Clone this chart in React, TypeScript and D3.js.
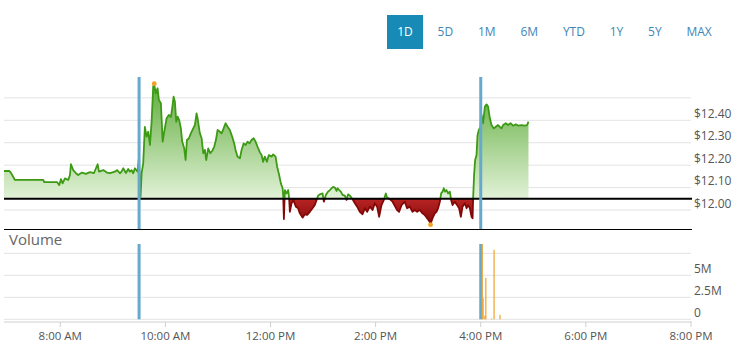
import React from "react";
import * as d3 from "d3";

const W = 746;
const H = 359;

const rangeButtons = ["1D", "5D", "1M", "6M", "YTD", "1Y", "5Y", "MAX"];
const selectedRange = "1D";
const previousClose = 12.05;
const priceTickValues = [12.0, 12.1, 12.2, 12.3, 12.4, 12.5];
const priceTickLabels = ["$12.00", "$12.10", "$12.20", "$12.30", "$12.40", ""];
const volumeTickValues = [0, 2.5e6, 5e6, 7.5e6];
const volumeTickLabels = ["0", "2.5M", "5M", ""];
const timeTickMinutes = [480, 600, 720, 840, 960, 1080, 1200];
const timeTickLabels = ["8:00 AM", "10:00 AM", "12:00 PM", "2:00 PM", "4:00 PM", "6:00 PM", "8:00 PM"];
const sessionMarkers = [570, 960]; // 9:30 AM open, 4:00 PM close

// minutes since midnight
const priceMinutes = [
  415.8, 421.8, 423.4, 428.3, 460.6, 461.7, 476.6, 478.9, 480.8, 482.7, 485.4, 489.1, 491.1, 492.2, 494.8, 497.9,
  500.5, 504.8, 509.3, 513.9, 518.5, 522.7, 524.2, 529.1, 533.3, 536.7, 542.4, 545, 548.1, 550, 551.9, 555, 557.6,
  559.5, 561.5, 563.3, 565.2, 568.3, 569.8, 571.7, 572.9, 574.7, 576.6, 578.6, 580.4, 582.4, 584.3, 586.1, 587.3,
  588.9, 591.1, 592.6, 594.9, 596.9, 598.7, 601.4, 604, 606.3, 607.8, 609.4, 610.9, 612.4, 614, 615.8, 617.7, 619.2,
  621.5, 623.1, 624.6, 626.9, 629.1, 631.8, 633.7, 635.6, 636.8, 639.4, 641.4, 643.2, 645.1, 646.6, 648.9, 651.2,
  653.4, 655.7, 657.7, 659.6, 662.2, 664.2, 666.5, 668.7, 671, 673.6, 676.3, 678.6, 680.1, 682.4, 685.1, 687, 689.3,
  691.6, 693.8, 696.1, 698.4, 700.7, 703, 705.2, 707.9, 709.8, 711.6, 713.6, 715.9, 718.1, 721.2, 723.1, 725.8,
  727.6, 729.9, 731.8, 733.8, 734.5, 735.3, 736.4, 738.3, 740.2, 741.3, 742.1, 744, 745.9, 749, 751.6, 753.5, 756.6,
  759.2, 761.9, 764.9, 768, 770.6, 772.6, 774.4, 776.4, 779.4, 780.9, 783.2, 785.8, 787.8, 789.7, 791.5, 793.8,
  795.4, 796.6, 798.4, 800.3, 802.3, 804.9, 806.8, 808.6, 810.6, 813.6, 816.3, 818.9, 822, 825.1, 827.7, 830.3,
  833.4, 836.5, 839.1, 841.7, 844, 846.7, 849.4, 851.6, 853.1, 856.2, 859.3, 861.9, 864.5, 866.8, 869.6, 873.3,
  875.9, 879, 882.1, 884.7, 887.4, 890.4, 893.5, 896.1, 898.8, 901.1, 902.7, 904.2, 905.6, 907.6, 909.5, 911.3,
  913.3, 914.8, 916.4, 917.8, 919.3, 920.9, 922.7, 924.7, 926.2, 927.8, 930.4, 933, 935.3, 937.3, 939.2, 941.9,
  943.8, 945.6, 947.6, 949.5, 950.7, 951.3, 952.4, 953.6, 955.2, 956.3, 957.8, 959.7, 960.9, 962.7, 964.7, 966.6,
  968.4, 970.4, 972.3, 974.9, 977.2, 979.8, 981.8, 983.7, 985.5, 988.6, 991.2, 994, 996.9, 1000, 1003.1, 1006.5,
  1010.3, 1012.9, 1014.5,
];

const priceValues = [
  12.174, 12.174, 12.168, 12.134, 12.134, 12.124, 12.124, 12.111, 12.138, 12.119, 12.141, 12.134, 12.156, 12.204,
  12.178, 12.164, 12.156, 12.167, 12.161, 12.169, 12.165, 12.204, 12.171, 12.178, 12.167, 12.164, 12.171, 12.178,
  12.164, 12.171, 12.186, 12.165, 12.183, 12.171, 12.178, 12.164, 12.186, 12.171, 12.231, 12.059, 12.164, 12.208,
  12.371, 12.327, 12.349, 12.29, 12.394, 12.55, 12.561, 12.52, 12.543, 12.491, 12.476, 12.305, 12.349, 12.409,
  12.424, 12.415, 12.454, 12.505, 12.483, 12.394, 12.416, 12.401, 12.364, 12.305, 12.275, 12.223, 12.312, 12.32,
  12.342, 12.364, 12.379, 12.431, 12.409, 12.342, 12.32, 12.253, 12.268, 12.223, 12.275, 12.253, 12.263, 12.282,
  12.312, 12.357, 12.349, 12.342, 12.364, 12.387, 12.371, 12.357, 12.327, 12.297, 12.268, 12.238, 12.231, 12.268,
  12.297, 12.29, 12.305, 12.297, 12.312, 12.32, 12.305, 12.282, 12.257, 12.245, 12.215, 12.238, 12.215, 12.245,
  12.238, 12.248, 12.238, 12.193, 12.156, 12.119, 12.097, 12.064, 11.96, 12.089, 12.074, 12.089, 12.052, 11.992,
  12.03, 12.045, 12.015, 12.008, 11.985, 11.966, 11.981, 11.978, 11.992, 12.008, 12.022, 12.045, 12.064, 12.07,
  12.074, 12.037, 12.067, 12.082, 12.089, 12.097, 12.103, 12.099, 12.085, 12.097, 12.089, 12.082, 12.067, 12.064,
  12.045, 12.07, 12.064, 12.049, 12.03, 12.015, 11.992, 11.981, 12.008, 11.992, 12.015, 12.0, 12.03, 12.015, 11.97,
  12.022, 12.045, 12.074, 12.055, 12.049, 12.037, 12.019, 12.0, 11.992, 12.022, 12.037, 12.008, 12.015, 11.992,
  12.0, 11.992, 12.0, 11.985, 11.978, 11.963, 11.951, 11.939, 11.955, 11.97, 11.985, 11.992, 12.008, 12.037,
  12.074, 12.082, 12.097, 12.082, 12.089, 12.074, 12.082, 12.045, 12.022, 12.037, 12.022, 12.008, 11.97, 12.015,
  12.03, 12.008, 12.022, 12.008, 11.97, 11.963, 12.052, 12.156, 12.223, 12.245, 12.334, 12.357, 12.371, 12.424,
  12.387, 12.461, 12.471, 12.461, 12.409, 12.379, 12.364, 12.371, 12.379, 12.371, 12.364, 12.379, 12.387, 12.379,
  12.387, 12.376, 12.382, 12.376, 12.379, 12.376, 12.379, 12.394,
];

const volumeMinutes = [961.7, 962.7, 964.7, 965.8, 972.3, 975.2, 982];
const volumeValues = [8.6e6, 2.4e6, 0.4e6, 4.7e6, 0.1e6, 7.9e6, 0.5e6];

const FONT = "'Open Sans', 'DejaVu Sans', sans-serif";

function measure(text: string, font: string): number {
  const c = document.createElement("canvas").getContext("2d");
  if (!c) return text.length * 7;
  c.font = font;
  return c.measureText(text).width;
}

export default function App() {
  const left = 4;
  const right = 691;
  const priceTop = 79;
  const priceBottom = 229;
  const volTop = 244;
  const volBottom = 319.3;

  const x = d3.scaleLinear().domain([415.8, 1200]).range([left, right]);
  const y = d3.scaleLinear().domain([11.9153, 12.5842]).range([priceBottom, priceTop]);
  const yv = d3.scaleLinear().domain([0, 8.557e6]).range([volBottom, volTop]).clamp(true);

  const data = priceMinutes.map((m, i) => ({ m, p: priceValues[i] }));
  const yBase = y(previousClose);

  const area = d3
    .area<{ m: number; p: number }>()
    .x((d) => x(d.m))
    .y0(yBase)
    .y1((d) => y(d.p));
  const line = d3
    .line<{ m: number; p: number }>()
    .x((d) => x(d.m))
    .y((d) => y(d.p));

  const areaPath = area(data) || "";
  const linePath = line(data) || "";

  let maxI = 0;
  let minI = 0;
  priceValues.forEach((v, i) => {
    if (v > priceValues[maxI]) maxI = i;
    if (v < priceValues[minI]) minI = i;
  });

  // button layout
  const btnFont = `12px ${FONT}`;
  let cursor = 387;
  const buttons = rangeButtons.map((label) => {
    const tw = measure(label, btnFont);
    const w = tw + 20.5;
    const b = { label, x: cursor, w };
    cursor += w + 4.3;
    return b;
  });

  return (
    <svg
      width={W}
      height={H}
      style={{ position: "absolute", left: 0, top: 0, fontFamily: FONT }}
    >
      <defs>
        <linearGradient id="gGreen" gradientUnits="userSpaceOnUse" x1="0" y1={priceTop} x2="0" y2={yBase}>
          <stop offset="0" stopColor="#5aa935" />
          <stop offset="1" stopColor="#e2f2d8" />
        </linearGradient>
        <linearGradient id="gRed" gradientUnits="userSpaceOnUse" x1="0" y1={yBase} x2="0" y2={priceBottom}>
          <stop offset="0" stopColor="#b82424" />
          <stop offset="1" stopColor="#7a0505" />
        </linearGradient>
        <clipPath id="above">
          <rect x={0} y={0} width={W} height={yBase} />
        </clipPath>
        <clipPath id="below">
          <rect x={0} y={yBase} width={W} height={H - yBase} />
        </clipPath>
      </defs>

      {/* range buttons */}
      {buttons.map((b) => {
        const sel = b.label === selectedRange;
        return (
          <g key={b.label}>
            {sel && <rect x={b.x} y={15} width={b.w} height={34} fill="#178bb6" />}
            <text
              x={b.x + b.w / 2}
              y={36.3}
              textAnchor="middle"
              fontSize={12}
              fill={sel ? "#ffffff" : "#3f86b6"}
            >
              {b.label}
            </text>
          </g>
        );
      })}

      {/* price gridlines */}
      {priceTickValues.map((v, i) => (
        <g key={"pg" + i}>
          <line x1={left} x2={right} y1={y(v)} y2={y(v)} stroke="#e3e3e3" strokeWidth={1} />
          <text x={694} y={y(v) - 2.3} fontSize={12} fill="#555">
            {priceTickLabels[i]}
          </text>
        </g>
      ))}

      {/* price area */}
      <path d={areaPath} fill="url(#gGreen)" clipPath="url(#above)" />
      <path d={areaPath} fill="url(#gRed)" clipPath="url(#below)" />
      <path d={linePath} fill="none" stroke="#3d9a15" strokeWidth={1.8} clipPath="url(#above)" strokeLinejoin="round" />
      <path d={linePath} fill="none" stroke="#850606" strokeWidth={1.8} clipPath="url(#below)" strokeLinejoin="round" />

      {/* previous close & panel border */}
      <line x1={left} x2={right + 1} y1={yBase} y2={yBase} stroke="#000" strokeWidth={2} />
      <line x1={left} x2={right + 1} y1={priceBottom + 0.5} y2={priceBottom + 0.5} stroke="#000" strokeWidth={1} />

      {/* session markers (price) */}
      {sessionMarkers.map((m) => (
        <line key={"sp" + m} x1={x(m)} x2={x(m)} y1={77} y2={priceBottom} stroke="#67a9cc" strokeWidth={3} />
      ))}

      {/* high / low dots */}
      <circle cx={x(priceMinutes[maxI])} cy={y(priceValues[maxI]) - 0.5} r={2.4} fill="#f4a020" />
      <circle cx={x(priceMinutes[minI])} cy={y(priceValues[minI]) + 1} r={2.4} fill="#f4a020" />

      {/* volume panel */}
      <text x={9} y={245} fontSize={15} fill="#666">
        Volume
      </text>
      {volumeTickValues.map((v, i) => (
        <g key={"vg" + i}>
          <line x1={left} x2={right} y1={yv(v)} y2={yv(v)} stroke="#e3e3e3" strokeWidth={1} />
          <text x={694} y={yv(v) - 2.3} fontSize={12} fill="#555">
            {volumeTickLabels[i]}
          </text>
        </g>
      ))}
      {sessionMarkers.map((m) => (
        <line key={"sv" + m} x1={x(m)} x2={x(m)} y1={volTop} y2={volBottom} stroke="#67a9cc" strokeWidth={3} />
      ))}
      {volumeMinutes.map((m, i) => (
        <rect
          key={"vb" + i}
          x={x(m) - 0.6}
          y={yv(volumeValues[i])}
          width={1.2}
          height={volBottom - yv(volumeValues[i])}
          fill="#f0a22a"
        />
      ))}

      {/* x axis */}
      <line x1={left} x2={right + 1} y1={322} y2={322} stroke="#cfcfcf" strokeWidth={1} />
      {timeTickMinutes.map((m, i) => (
        <g key={"xt" + i}>
          <line x1={x(m)} x2={x(m)} y1={322} y2={327} stroke="#cfcfcf" strokeWidth={1} />
          <text x={x(m)} y={339.5} textAnchor="middle" fontSize={11.5} fill="#555">
            {timeTickLabels[i]}
          </text>
        </g>
      ))}
    </svg>
  );
}
